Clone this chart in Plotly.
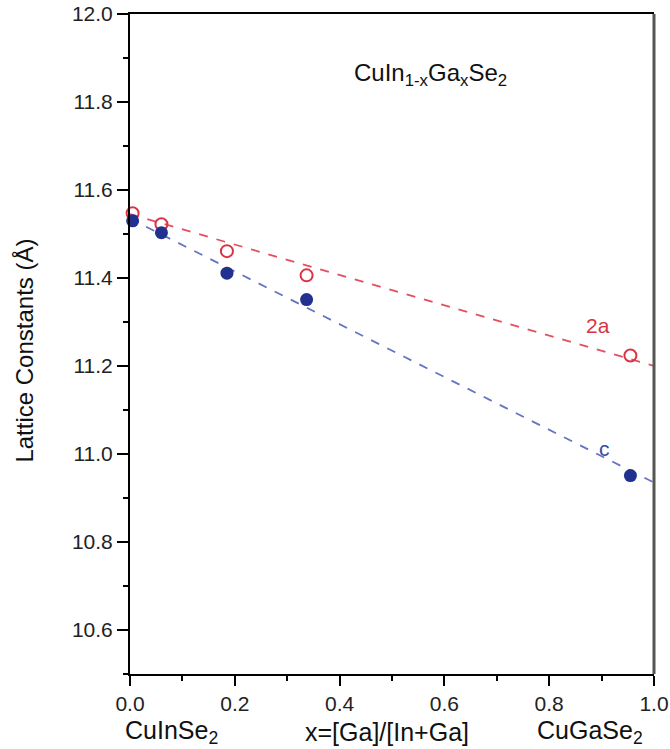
import plotly.graph_objects as go

# Ga fraction x = [Ga]/[In+Ga]
ga_fraction = [0.005, 0.06, 0.185, 0.337, 0.955]
# 2a lattice constant (Å)
two_a = [11.547, 11.522, 11.461, 11.406, 11.224]
# c lattice constant (Å)
c_const = [11.530, 11.503, 11.411, 11.351, 10.951]

# Linear (Vegard) trend lines across the full composition range
fit_x = [0.0, 1.0]
two_a_fit = [11.545, 11.200]
c_fit = [11.535, 10.935]

x_ticks = [0.0, 0.2, 0.4, 0.6, 0.8, 1.0]
y_ticks = [10.6, 10.8, 11.0, 11.2, 11.4, 11.6, 11.8, 12.0]

RED = "#d93445"
RED_LINE = "#e2505e"
BLUE = "#22308f"
BLUE_LINE = "#6675c2"
FONT = "Liberation Sans, Arial, Helvetica, sans-serif"

fig = go.Figure()

fig.add_trace(go.Scatter(
    x=fit_x, y=two_a_fit, mode="lines",
    line=dict(color=RED_LINE, width=1.8, dash="dash"),
    hoverinfo="skip", showlegend=False))
fig.add_trace(go.Scatter(
    x=fit_x, y=c_fit, mode="lines",
    line=dict(color=BLUE_LINE, width=1.8, dash="dash"),
    hoverinfo="skip", showlegend=False))

fig.add_trace(go.Scatter(
    x=ga_fraction, y=two_a, mode="markers", name="2a",
    marker=dict(symbol="circle-open", size=12, color=RED, line=dict(width=2, color=RED)),
    cliponaxis=False, showlegend=False))
fig.add_trace(go.Scatter(
    x=ga_fraction, y=c_const, mode="markers", name="c",
    marker=dict(symbol="circle", size=13, color=BLUE, line=dict(width=0)),
    cliponaxis=False, showlegend=False))

TXT = "#111111"
annotations = [
    dict(x=0.573, y=11.862, xref="x", yref="y", showarrow=False,
         text="CuIn<sub>1-x</sub>Ga<sub>x</sub>Se<sub>2</sub>",
         font=dict(family=FONT, size=24, color=TXT)),
    dict(x=0.893, y=11.292, xref="x", yref="y", showarrow=False,
         text="2a", font=dict(family=FONT, size=21, color=RED)),
    dict(x=0.905, y=11.012, xref="x", yref="y", showarrow=False,
         text="c", font=dict(family=FONT, size=21, color="#3a4aa8")),
    dict(x=0, y=0.49, xref="paper", yref="paper", showarrow=False,
         xanchor="center", yanchor="middle", xshift=-105,
         text="Lattice Constants (Å)", textangle=-90,
         font=dict(family=FONT, size=24, color=TXT)),
    dict(x=0.08, y=0, xref="x", yref="paper", showarrow=False,
         xanchor="center", yanchor="middle", yshift=-58,
         text="CuInSe<sub>2</sub>", font=dict(family=FONT, size=25, color=TXT)),
    dict(x=0.49, y=0, xref="x", yref="paper", showarrow=False,
         xanchor="center", yanchor="middle", yshift=-58,
         text="x=[Ga]/[In+Ga]", font=dict(family=FONT, size=25, color=TXT)),
    dict(x=0.878, y=0, xref="x", yref="paper", showarrow=False,
         xanchor="center", yanchor="middle", yshift=-58,
         text="CuGaSe<sub>2</sub>", font=dict(family=FONT, size=25, color=TXT)),
]

fig.update_layout(
    width=670, height=749,
    margin=dict(l=130, r=16, t=14, b=75, autoexpand=False),
    paper_bgcolor="white", plot_bgcolor="white",
    font=dict(family=FONT, color=TXT),
    annotations=annotations,
    shapes=[dict(type="line", xref="x domain", yref="y domain",
                 x0=1, x1=1, y0=0, y1=1,
                 line=dict(color="#555555", width=3))],
    xaxis=dict(
        range=[0, 1], tickvals=x_ticks, tickformat=".1f", automargin=False,
        ticks="outside", ticklen=10, tickwidth=2, tickcolor="black",
        showline=True, linecolor="black", linewidth=2, mirror=True,
        showgrid=False, zeroline=False,
        tickfont=dict(family=FONT, size=21, color="#222222"),
        minor=dict(dtick=0.1, ticks="outside", ticklen=5, tickwidth=2,
                   tickcolor="black", showgrid=False),
    ),
    yaxis=dict(
        range=[10.5, 12.0], tickvals=y_ticks, tickformat=".1f", automargin=False,
        ticks="outside", ticklen=11, tickwidth=2, tickcolor="black",
        showline=True, linecolor="black", linewidth=2, mirror=False,
        showgrid=False, zeroline=False,
        tickfont=dict(family=FONT, size=21, color="#222222"),
        minor=dict(dtick=0.1, ticks="outside", ticklen=5, tickwidth=2,
                   tickcolor="black", showgrid=False),
    ),
)

fig.write_html("out.html")
